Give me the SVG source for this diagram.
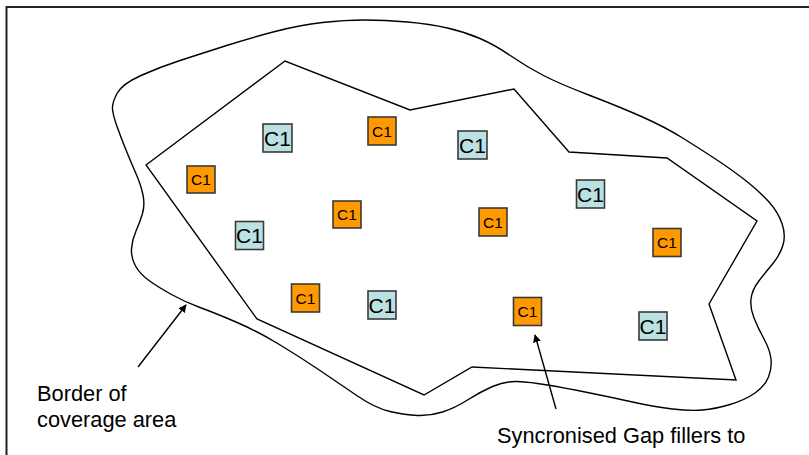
<svg xmlns="http://www.w3.org/2000/svg" width="809" height="455" viewBox="0 0 809 455">
  <defs>
    <style>
      .line { fill: none; stroke: #000; stroke-width: 1.4; stroke-linejoin: miter; }
      .teal rect { fill: #BBE1E3; stroke: #3a3a3a; stroke-width: 1.6; }
      .orange rect { fill: #FF9900; stroke: #3a3a3a; stroke-width: 1.6; }
      .teal text { font-family: "Liberation Sans", Arial, sans-serif; font-size: 21px; fill: #000; text-anchor: middle; }
      .orange text { font-family: "Liberation Sans", Arial, sans-serif; font-size: 15.5px; fill: #000; text-anchor: middle; }
      .label { font-family: "Liberation Sans", Arial, sans-serif; font-size: 21.8px; fill: #000; }
      .arrow { fill: none; stroke: #000; stroke-width: 1.4; marker-end: url(#head); }
    </style>
    <marker id="head" viewBox="0 0 10 10" refX="9" refY="5" markerWidth="8" markerHeight="8" markerUnits="userSpaceOnUse" orient="auto">
      <path d="M0,0 L10,5 L0,10 Z" fill="#000"/>
    </marker>
  </defs>

  <rect x="6.5" y="7" width="900" height="500" fill="#fff" stroke="#222" stroke-width="2"/>

  <path id="coverage-border" class="line" d="M112.5,109 Q112,103 117,93.5 Q122,84 141,75.5 Q160,67 180,60.5 Q200,54 225,46 Q250,38 275,31.5 Q300,25 322.5,22.5 Q345,20 365,20 Q385,20 407.5,22 Q430,24 447.5,28 Q465,32 480,38.5 Q495,45 511,56 Q527,67 543.5,75.5 Q560,84 590,95.5 Q620,107 642.5,117 Q665,127 683.5,138.5 Q702,150 718.5,161 Q735,172 747.5,182 Q760,192 769,202 Q778,212 782,223.5 Q786,235 783,245 Q780,255 772.5,264 Q765,273 758.5,281.5 Q752,290 751,299 Q750,308 754,318 Q758,328 764,339 Q770,350 771,359 Q772,368 768.5,377 Q765,386 755,393 Q745,400 730,404.5 Q715,409 702.5,410 Q690,411 672.5,409 Q655,407 632.5,402 Q610,397 587.5,392.5 Q565,388 547.5,385 Q530,382 517.5,381.5 Q505,381 492.5,386.5 Q480,392 467.5,400 Q455,408 442.5,412 Q430,416 417.5,415.5 Q405,415 390,411.5 Q375,408 357.5,396 Q340,384 320,370.5 Q300,357 278.5,344 Q257,331 236,322 Q215,313 200,307.5 Q185,302 171.5,294.5 Q158,287 149,280.5 Q140,274 135.5,266 Q131,258 131.5,249 Q132,240 136,231 Q140,222 142.5,213.5 Q145,205 143,195 Q141,185 135.5,172.5 Q130,160 125,147.5 Q120,135 116.5,125 Q113,115 112.5,109 Z"/>

  <polygon id="inner-area" class="line" points="146,165 285,61 410,110 514,89 569,152 667,158 757,221 709,304 736,380 472,367 424,395 257,319"/>

  <g id="nodes">
    <g id="t1" class="teal"><rect x="263" y="124" width="29" height="28"/><text x="277.5" y="145.5">C1</text></g>
    <g id="t2" class="teal"><rect x="235.5" y="221.5" width="28" height="28"/><text x="249.5" y="243">C1</text></g>
    <g id="t3" class="teal"><rect x="458" y="131" width="29" height="28"/><text x="472.5" y="152.5">C1</text></g>
    <g id="t4" class="teal"><rect x="576.5" y="180" width="28" height="28"/><text x="590.5" y="201.5">C1</text></g>
    <g id="t5" class="teal"><rect x="368" y="291" width="28" height="28"/><text x="382" y="312.5">C1</text></g>
    <g id="t6" class="teal"><rect x="639" y="312" width="28" height="28"/><text x="653" y="333.5">C1</text></g>

    <g id="o1" class="orange"><rect x="187" y="166" width="28" height="27"/><text x="201" y="185">C1</text></g>
    <g id="o2" class="orange"><rect x="333" y="201" width="28" height="27"/><text x="347" y="220">C1</text></g>
    <g id="o3" class="orange"><rect x="368" y="117" width="28" height="28"/><text x="382" y="136.5">C1</text></g>
    <g id="o4" class="orange"><rect x="479" y="208" width="28" height="28"/><text x="493" y="227.5">C1</text></g>
    <g id="o5" class="orange"><rect x="653" y="228.5" width="28" height="28"/><text x="667" y="248">C1</text></g>
    <g id="o6" class="orange"><rect x="291.5" y="284" width="28" height="28"/><text x="305.5" y="303.5">C1</text></g>
    <g id="o7" class="orange"><rect x="513.5" y="297.5" width="28" height="28"/><text x="527.5" y="317">C1</text></g>
  </g>

  <g id="connectors">
    <path class="arrow" d="M138,367 L186,305"/>
    <path class="arrow" d="M556,409 L535,335"/>
  </g>

  <g id="labels">
    <text class="label" x="37" y="401">Border of</text>
    <text class="label" x="37" y="427">coverage area</text>
    <text class="label" x="497" y="443">Syncronised Gap fillers to</text>
  </g>
</svg>
